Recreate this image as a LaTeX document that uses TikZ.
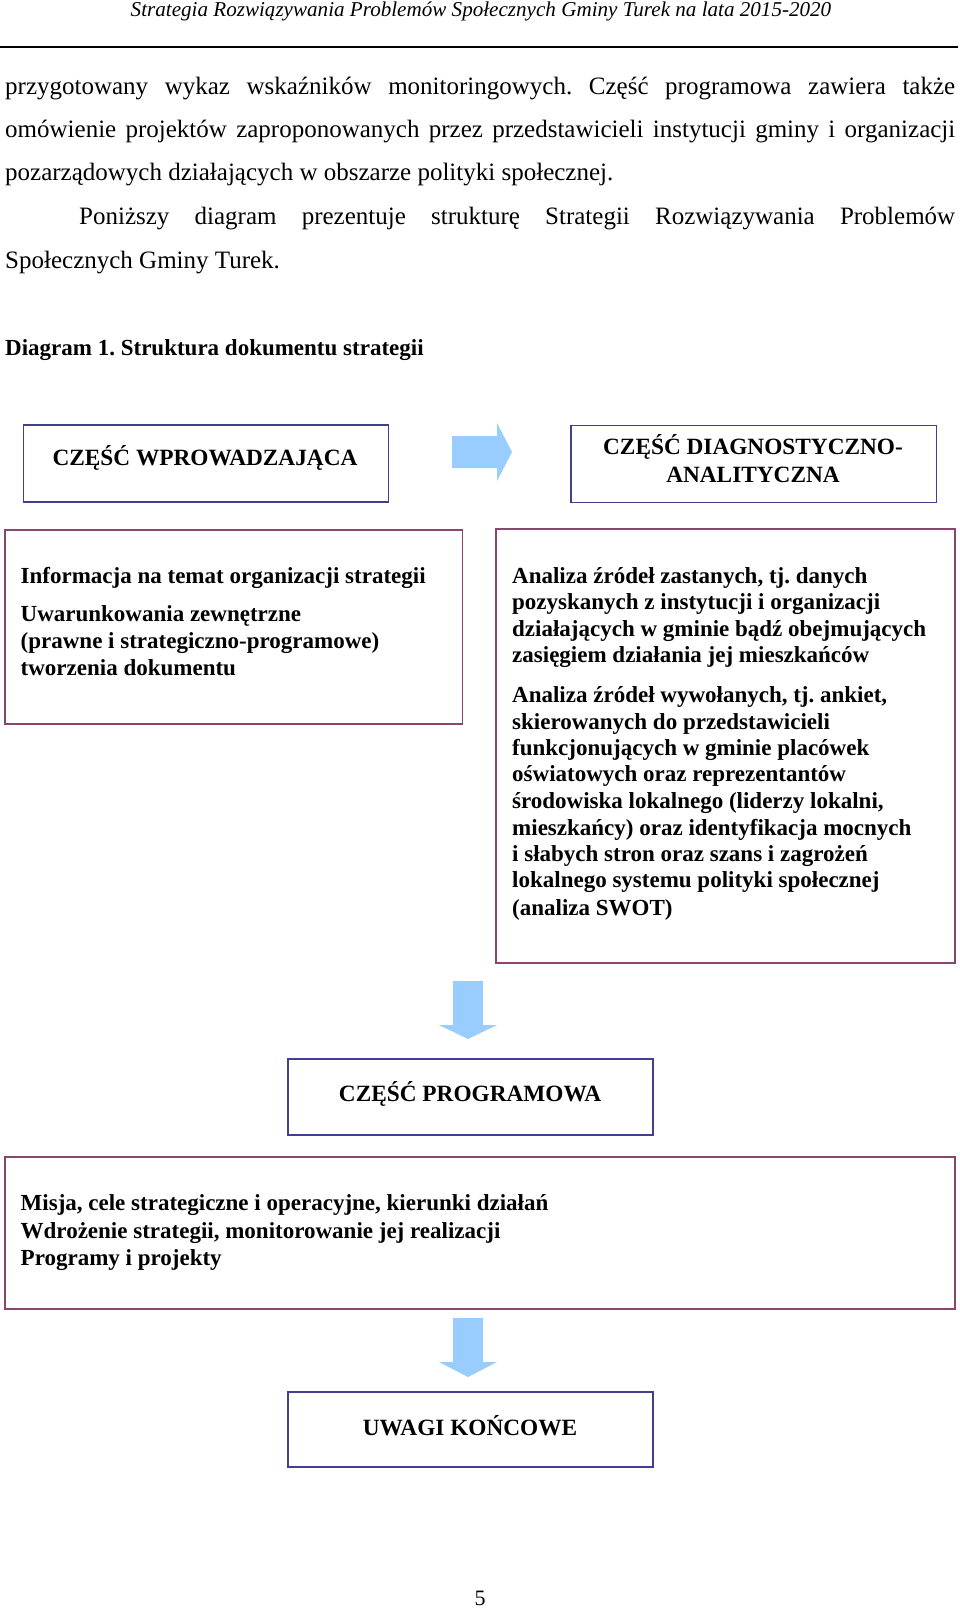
\documentclass[tikz,border=0pt]{standalone}
\usepackage{fontspec}
\setmainfont{Liberation Serif}
\frenchspacing
\definecolor{bluebd}{RGB}{64,64,140}
\definecolor{purbd}{RGB}{140,70,110}
\definecolor{arrowfill}{RGB}{153,204,255}
\tikzset{
  blubox/.style={draw=bluebd, line width=1.8pt, inner sep=0pt, anchor=north west},
  purbox/.style={draw=purbd, line width=1.8pt, inner sep=0pt, anchor=north west},
  body/.style={anchor=base west, inner sep=0pt, font=\fontsize{25}{30}\selectfont},
  btxt/.style={anchor=base west, inner sep=0pt, font=\fontsize{23}{27}\selectfont\bfseries},
  ctxt/.style={inner sep=0pt, font=\fontsize{23.3}{28}\selectfont\bfseries, align=center},
  blockarrow/.style={fill=arrowfill, draw=none}
}
\begin{document}
\begin{tikzpicture}[x=1pt,y=-1pt]
\useasboundingbox (0,0) rectangle (960,1608);
% header
\node[inner sep=0pt, font=\fontsize{21.1}{25}\selectfont\itshape] (hdr) at (481,11) {Strategia Rozwiązywania Problemów Społecznych Gminy Turek na lata 2015-2020};
\coordinate (rl) at (0,47);
\coordinate (rr) at (958,47);
\draw[line width=1.5pt] (rl) -- (rr);
% body text
\node[body] (l1) at (5,95) {\makebox[950pt][s]{przygotowany wykaz wskaźników monitoringowych. Część programowa zawiera także}};
\node[body] (l2) at (5,138) {\makebox[950pt][s]{omówienie projektów zaproponowanych przez przedstawicieli instytucji gminy i organizacji}};
\node[body] (l3) at (5,181) {pozarządowych działających w obszarze polityki społecznej.};
\node[body] (l4) at (79,225) {\makebox[876pt][s]{Poniższy diagram prezentuje strukturę Strategii Rozwiązywania Problemów}};
\node[body] (l5) at (5,268) {Społecznych Gminy Turek.};
\node[body, font=\fontsize{23}{28}\selectfont\bfseries] (cap) at (5,355) {Diagram 1. Struktura dokumentu strategii};
% boxes
\node[blubox, minimum width=365pt, minimum height=77pt] (boxA) at (22.6,424) {};
\node[ctxt] (tA) at (205,458) {CZĘŚĆ WPROWADZAJĄCA};
\node[blubox, minimum width=365.5pt, minimum height=77pt] (boxB) at (570,424.6) {};
\node[ctxt] (tB1) at (753,447) {CZĘŚĆ DIAGNOSTYCZNO-};
\node[ctxt] (tB2) at (753,475) {ANALITYCZNA};
\node[purbox, minimum width=457.5pt, minimum height=194pt] (boxC) at (4,529) {};
\node[btxt] (c1) at (20.5,583) {Informacja na temat organizacji strategii};
\node[btxt] (c2) at (20.5,621) {Uwarunkowania zewnętrzne};
\node[btxt] (c3) at (20.5,648) {(prawne i strategiczno-programowe)};
\node[btxt] (c4) at (20.5,675) {tworzenia dokumentu};
\node[purbox, minimum width=459pt, minimum height=434pt] (boxD) at (495,528) {};
\node[btxt] (d1) at (512,583) {Analiza źródeł zastanych, tj. danych};
\node[btxt] (d2) at (512,609) {pozyskanych z instytucji i organizacji};
\node[btxt] (d3) at (512,636) {działających w gminie bądź obejmujących};
\node[btxt] (d4) at (512,662) {zasięgiem działania jej mieszkańców};
\node[btxt] (d5) at (512,702) {Analiza źródeł wywołanych, tj. ankiet,};
\node[btxt] (d6) at (512,729) {skierowanych do przedstawicieli};
\node[btxt] (d7) at (512,755) {funkcjonujących w gminie placówek};
\node[btxt] (d8) at (512,781) {oświatowych oraz reprezentantów};
\node[btxt] (d9) at (512,808) {środowiska lokalnego (liderzy lokalni,};
\node[btxt] (d10) at (512,835) {mieszkańcy) oraz identyfikacja mocnych};
\node[btxt] (d11) at (512,861) {i słabych stron oraz szans i zagrożeń};
\node[btxt] (d12) at (512,887) {lokalnego systemu polityki społecznej};
\node[btxt] (d13) at (512,915) {(analiza SWOT)};
\node[blubox, minimum width=365pt, minimum height=76pt] (boxE) at (287,1058) {};
\node[ctxt] (tE) at (470,1094) {CZĘŚĆ PROGRAMOWA};
\node[purbox, minimum width=950pt, minimum height=152pt] (boxF) at (4,1156) {};
\node[btxt] (f1) at (20.5,1210) {Misja, cele strategiczne i operacyjne, kierunki działań};
\node[btxt] (f2) at (20.5,1238) {Wdrożenie strategii, monitorowanie jej realizacji};
\node[btxt] (f3) at (20.5,1265) {Programy i projekty};
\node[blubox, minimum width=365pt, minimum height=75pt] (boxG) at (287,1391) {};
\node[ctxt] (tG) at (470,1426) {UWAGI KOŃCOWE};
% block arrows
\fill[blockarrow] (452,436) -- (497,436) -- (497,423) -- (512,452) -- (497,481) -- (497,468) -- (452,468) -- cycle;
\fill[blockarrow] (453,981) -- (483,981) -- (483,1025) -- (497,1025) -- (468,1039) -- (439,1025) -- (453,1025) -- cycle;
\fill[blockarrow] (453,1318) -- (483,1318) -- (483,1362) -- (497,1362) -- (468,1377) -- (439,1362) -- (453,1362) -- cycle;
% page number
\node[inner sep=0pt, font=\fontsize{22}{26}\selectfont] (pg) at (480,1598) {5};
\end{tikzpicture}
\end{document}
